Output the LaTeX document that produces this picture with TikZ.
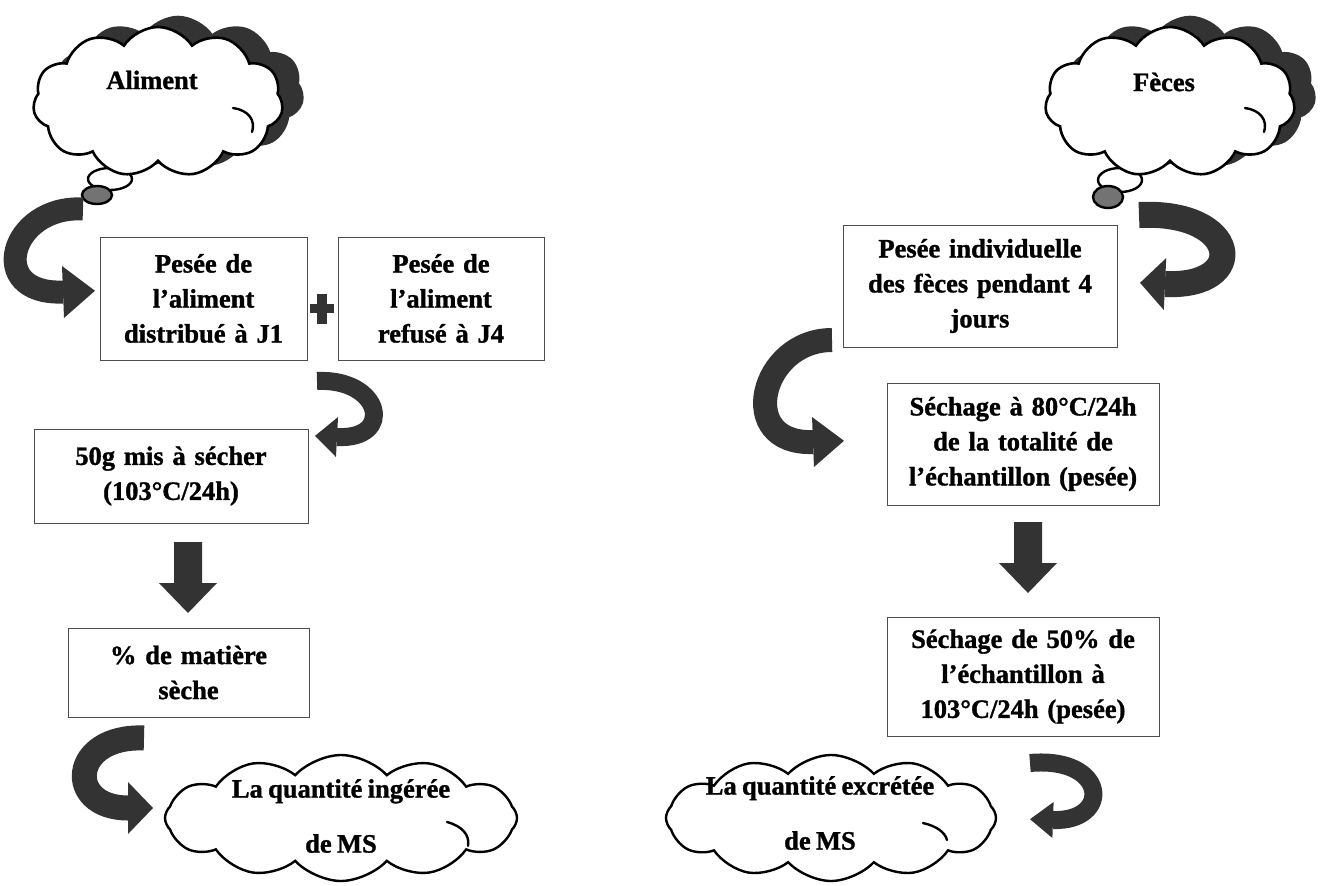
\documentclass[tikz,border=0pt]{standalone}
\usepackage{fontspec}
\setmainfont{Liberation Serif}[WordSpace=0.8, BoldFeatures={FakeBold=1.2}]
\usetikzlibrary{shapes.symbols,shapes.geometric,calc}
\definecolor{arrowc}{gray}{0.2}
\newcommand\boxfont{\bfseries\fontsize{26.5}{35}\selectfont}
\newcommand\cloudfont{\bfseries\fontsize{26.5}{55}\selectfont}
\tikzset{
  box/.style={draw=black!70, line width=1pt, fill=white, align=center, inner sep=0pt, font=\boxfont},
  ctext/.style={align=center, inner sep=0pt, font=\cloudfont},
  wcloud/.style={cloud, cloud puffs=11, cloud puff arc=115, cloud ignores aspect, draw=black, line width=2.6pt, fill=white, inner sep=0pt},
  scloud/.style={cloud, cloud puffs=11, cloud puff arc=115, cloud ignores aspect, draw=arrowc, line width=2.6pt, fill=arrowc, inner sep=0pt},
  bcloud/.style={cloud, cloud puffs=12, cloud puff arc=95, cloud ignores aspect, draw=black, line width=2.4pt, fill=white, inner sep=0pt},
  bubw/.style={ellipse, draw=black, line width=2.4pt, fill=white, inner sep=0pt},
  bubd/.style={ellipse, draw=black, line width=2.4pt, fill=black!55, inner sep=0pt},
  puff/.style={draw=black, line width=2.4pt, line cap=round},
}
% fat curved arrow: start, c1, c2, end, band width, head half width, head length
\newcommand\fatarrow[7]{%
  \draw[line width=#5, draw=arrowc] (#1) .. controls (#2) and (#3) .. (#4);
  \fill[arrowc] ($(#4)!#6!90:(#3)$) -- ($(#4)!-#7!(#3)$) -- ($(#4)!#6!-90:(#3)$) -- cycle;}
% block down arrow: top centre, head-start, tip
\newcommand\downblock[3]{%
  \fill[arrowc] ($(#1)+(-14,0)$) -- ($(#1)+(14,0)$) -- ($(#2)+(14,0)$) -- ($(#2)+(29,0)$)
     -- (#3) -- ($(#2)+(-29,0)$) -- ($(#2)+(-14,0)$) -- cycle;}
\begin{document}
\begin{tikzpicture}[x=1pt,y=-1pt]
\useasboundingbox (0,0) rectangle (1323,886);

% ---------- top clouds ----------
\node[scloud, minimum width=250pt, minimum height=150pt] (alimS) at (178,92) {};
\node[bubw, minimum width=44pt, minimum height=22pt] (alimB1) at (110,179) {};
\node[bubd, minimum width=30pt, minimum height=18pt] (alimB2) at (97,195) {};
\node[wcloud, minimum width=250pt, minimum height=150pt] (alimC) at (158,102) {};
\node[ctext] (alimT) at (152,80) {Aliment};
\draw[puff] (233,108) .. controls (248,110) and (256,120) .. (252,132);

\node[scloud, minimum width=250pt, minimum height=150pt] (fecS) at (1190,92) {};
\node[bubw, minimum width=44pt, minimum height=24pt] (fecB1) at (1120,180) {};
\node[bubd, minimum width=30pt, minimum height=22pt] (fecB2) at (1108,197) {};
\node[wcloud, minimum width=250pt, minimum height=150pt] (fecC) at (1170,102) {};
\node[ctext] (fecT) at (1164,82) {Fèces};
\draw[puff] (1245,108) .. controls (1260,110) and (1268,120) .. (1264,132);

% ---------- boxes ----------
\node[box, minimum width=207pt, minimum height=123pt, text width=200pt] (b1) at (203.5,298.5) {Pesée de\\l’aliment\\distribué à J1};
\node[box, minimum width=206pt, minimum height=123pt, text width=200pt] (b2) at (441,298.5) {Pesée de\\l’aliment\\refusé à J4};
\node[box, minimum width=274pt, minimum height=94pt, text width=266pt] (b3) at (171,476) {50g mis à sécher\\(103°C/24h)};
\node[box, minimum width=241pt, minimum height=89pt, text width=234pt] (b4) at (188.5,672.5) {\% de matière\\sèche};
\node[box, minimum width=274pt, minimum height=122pt, text width=266pt] (b5) at (980,286) {Pesée individuelle\\des fèces pendant 4\\jours};
\node[box, minimum width=272pt, minimum height=122pt, text width=266pt] (b6) at (1023,444) {Séchage à 80°C/24h\\de la totalité de\\l’échantillon (pesée)};
\node[box, minimum width=272pt, minimum height=119pt, text width=266pt] (b7) at (1023,676.5) {Séchage de 50\% de\\l’échantillon à\\103°C/24h (pesée)};

% plus sign
\fill[arrowc] (317,294) rectangle (327,324);
\fill[arrowc] (310,304) rectangle (334,313);

% ---------- bottom clouds ----------
\node[bcloud, minimum width=352pt, minimum height=126pt] (ingC) at (341,818) {};
\node[ctext] (ingT) at (341,816) {La quantité ingérée\\de MS};
\draw[puff] (447,822) .. controls (462,826) and (470,835) .. (468,846);
\node[bcloud, minimum width=330pt, minimum height=126pt] (excC) at (831,818) {};
\node[ctext] (excT) at (820,813) {La quantité excrétée\\de MS};
\draw[puff] (923,823) .. controls (936,826) and (945,832) .. (947,840);

% ---------- curved arrows ----------
\coordinate (a1s) at (83,209);  \coordinate (a1c1) at (10,205);  \coordinate (a1c2) at (-15,295); \coordinate (a1e) at (63,292);
\fatarrow{a1s}{a1c1}{a1c2}{a1e}{23pt}{26pt}{32pt}
\coordinate (a2s) at (317,381); \coordinate (a2c1) at (382,378); \coordinate (a2c2) at (395,440); \coordinate (a2e) at (337,437);
\fatarrow{a2s}{a2c1}{a2c2}{a2e}{18pt}{20pt}{22pt}
\coordinate (a3s) at (144,738); \coordinate (a3c1) at (70,735);  \coordinate (a3c2) at (65,808);  \coordinate (a3e) at (128,808);
\fatarrow{a3s}{a3c1}{a3c2}{a3e}{25pt}{26pt}{25pt}
\coordinate (a4s) at (1139,215); \coordinate (a4c1) at (1240,210); \coordinate (a4c2) at (1250,288); \coordinate (a4e) at (1165,284);
\fatarrow{a4s}{a4c1}{a4c2}{a4e}{26pt}{26pt}{25pt}
\coordinate (a5s) at (832,340); \coordinate (a5c1) at (760,340); \coordinate (a5c2) at (735,445); \coordinate (a5e) at (813,442);
\fatarrow{a5s}{a5c1}{a5c2}{a5e}{24pt}{25pt}{31pt}
\coordinate (a6s) at (1030,763); \coordinate (a6c1) at (1108,756); \coordinate (a6c2) at (1112,822); \coordinate (a6e) at (1053,820);
\fatarrow{a6s}{a6c1}{a6c2}{a6e}{18pt}{18pt}{23pt}

% ---------- straight down arrows ----------
\coordinate (d1t) at (188,542); \coordinate (d1h) at (188,583); \coordinate (d1p) at (188,613);
\downblock{d1t}{d1h}{d1p}
\coordinate (d2t) at (1028,522); \coordinate (d2h) at (1028,563); \coordinate (d2p) at (1028,593);
\downblock{d2t}{d2h}{d2p}
\end{tikzpicture}
\end{document}
